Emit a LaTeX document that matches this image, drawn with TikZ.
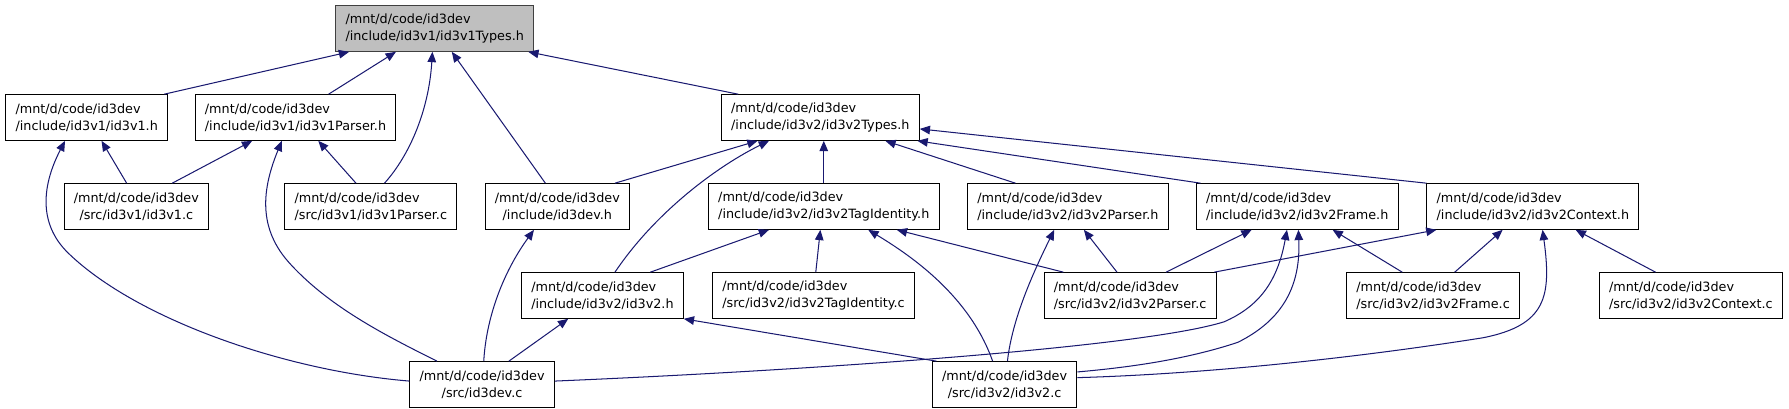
\documentclass[tikz,border=0pt]{standalone}
\usepackage{fontspec}
\setmainfont{DejaVu Sans}
\usetikzlibrary{arrows.meta}
\definecolor{DGEdge}{HTML}{191970}
\definecolor{DGRoot}{HTML}{BFBFBF}
\definecolor{DGRootLine}{HTML}{404040}
\tikzset{
  dep/.style={{Triangle[length=9pt,width=7.5pt]}-,DGEdge,line width=0.9pt},
  file/.style={draw=black,line width=0.9pt,fill=white,inner xsep=8.5pt,inner ysep=2pt,
               minimum height=40pt,align=left,font=\fontsize{11.2}{14.5}\selectfont},
  filec/.style={file,align=center},
  root/.style={file,fill=DGRoot,draw=DGRootLine},
}
\begin{document}
\begin{tikzpicture}[x=1pt,y=1pt]
  \useasboundingbox (0,0) rectangle (1568,-358);
  % headers
  \node[root] (types) at (381,-25) {/mnt/d/code/id3dev\\/include/id3v1/id3v1Types.h};
  \node[file] (v1h) at (76,-103) {/mnt/d/code/id3dev\\/include/id3v1/id3v1.h};
  \node[file] (v1parserh) at (259,-103) {/mnt/d/code/id3dev\\/include/id3v1/id3v1Parser.h};
  \node[file] (v2typesh) at (719,-103) {/mnt/d/code/id3dev\\/include/id3v2/id3v2Types.h};
  \node[filec] (v1c) at (119.5,-181) {/mnt/d/code/id3dev\\/src/id3v1/id3v1.c};
  \node[file] (v1parserc) at (325,-181) {/mnt/d/code/id3dev\\/src/id3v1/id3v1Parser.c};
  \node[filec] (devh) at (488.5,-181) {/mnt/d/code/id3dev\\/include/id3dev.h};
  \node[file] (tagidh) at (722,-181) {/mnt/d/code/id3dev\\/include/id3v2/id3v2TagIdentity.h};
  \node[file] (v2parserh) at (936,-181) {/mnt/d/code/id3dev\\/include/id3v2/id3v2Parser.h};
  \node[file] (frameh) at (1137,-181) {/mnt/d/code/id3dev\\/include/id3v2/id3v2Frame.h};
  \node[file] (contexth) at (1343.5,-181) {/mnt/d/code/id3dev\\/include/id3v2/id3v2Context.h};
  \node[file] (v2h) at (528,-259) {/mnt/d/code/id3dev\\/include/id3v2/id3v2.h};
  \node[file] (tagidc) at (713,-259) {/mnt/d/code/id3dev\\/src/id3v2/id3v2TagIdentity.c};
  \node[file] (v2parserc) at (990.5,-259) {/mnt/d/code/id3dev\\/src/id3v2/id3v2Parser.c};
  \node[file] (framec) at (1256,-259) {/mnt/d/code/id3dev\\/src/id3v2/id3v2Frame.c};
  \node[file] (contextc) at (1482,-259) {/mnt/d/code/id3dev\\/src/id3v2/id3v2Context.c};
  \node[filec] (devc) at (422.5,-337) {/mnt/d/code/id3dev\\/src/id3dev.c};
  \node[filec] (v2c) at (880.5,-337) {/mnt/d/code/id3dev\\/src/id3v2/id3v2.c};

  % id3v1Types.h
  \draw[dep] ([xshift=-75]types.south) -- ([xshift=68]v1h.north);
  \draw[dep] ([xshift=-34]types.south) -- ([xshift=29]v1parserh.north);
  \draw[dep] ([xshift=-2]types.south) .. controls (376,-95) and (360,-135) .. ([xshift=12]v1parserc.north);
  \draw[dep] ([xshift=15]types.south) -- ([xshift=-10.5]devh.north);
  \draw[dep] ([xshift=82]types.south) -- ([xshift=-72]v2typesh.north);
  % id3v1
  \draw[dep] ([xshift=13]v1h.south) -- ([xshift=-8.5]v1c.north);
  \draw[dep] ([xshift=-19]v1h.south) .. controls (38,-160) and (32,-195) .. (60,-222)
    .. controls (120,-280) and (250,-325) .. ([yshift=3]devc.west);
  \draw[dep] ([xshift=-38]v1parserh.south) -- ([xshift=31.5]v1c.north);
  \draw[dep] ([xshift=-12]v1parserh.south) .. controls (230,-165) and (225,-200) .. (255,-232)
    .. controls (290,-270) and (340,-295) .. ([xshift=-39.5]devc.north);
  \draw[dep] ([xshift=20]v1parserh.south) -- ([xshift=-13]v1parserc.north);
  \draw[dep] ([xshift=-20.5]devh.south) .. controls (440,-240) and (426,-280) .. ([xshift=1.5]devc.north);
  % id3v2Types.h
  \draw[dep] ([xshift=-55]v2typesh.south) -- ([xshift=50.5]devh.north);
  \draw[dep] ([xshift=-45]v2typesh.south) .. controls (630,-145) and (575,-185) .. ([xshift=11]v2h.north);
  \draw[dep] ([xshift=3]v2typesh.south) -- ([xshift=0]tagidh.north);
  \draw[dep] ([xshift=57]v2typesh.south) -- ([xshift=-46]v2parserh.north);
  \draw[dep] ([xshift=-2]v2typesh.south east) -- ([xshift=4]frameh.north west);
  \draw[dep] ([yshift=-10]v2typesh.east) -- (contexth.north west);
  % id3v2TagIdentity.h
  \draw[dep] ([xshift=-48]tagidh.south) -- ([xshift=42]v2h.north);
  \draw[dep] ([xshift=-3]tagidh.south) -- ([xshift=2]tagidc.north);
  \draw[dep] ([xshift=39]tagidh.south) .. controls (800,-225) and (850,-260) .. ([xshift=-10.5]v2c.north);
  \draw[dep] ([xshift=64]tagidh.south) -- ([xshift=-58.5]v2parserc.north);
  % id3v2Parser.h
  \draw[dep] ([xshift=-12]v2parserh.south) .. controls (905,-240) and (887,-280) .. ([xshift=2.5]v2c.north);
  \draw[dep] ([xshift=14]v2parserh.south) -- ([xshift=-11.5]v2parserc.north);
  % id3v2Frame.h
  \draw[dep] ([xshift=-40]frameh.south) -- ([xshift=31.5]v2parserc.north);
  \draw[dep] ([xshift=-9]frameh.south) .. controls (1120,-245) and (1105,-268) .. (1073,-282)
    .. controls (1000,-305) and (700,-325) .. ([yshift=3]devc.east);
  \draw[dep] ([xshift=1]frameh.south) .. controls (1140,-250) and (1125,-280) .. (1085,-300)
    .. controls (1040,-315) and (990,-322) .. ([yshift=11]v2c.east);
  \draw[dep] ([xshift=31]frameh.south) -- ([xshift=-27]framec.north);
  % id3v2Context.h
  \draw[dep] ([xshift=-84.5]contexth.south) -- ([xshift=-2]v2parserc.north east);
  \draw[dep] ([xshift=-26.5]contexth.south) -- ([xshift=19]framec.north);
  \draw[dep] ([xshift=8.5]contexth.south) .. controls (1360,-260) and (1355,-285) .. (1300,-296)
    .. controls (1180,-315) and (1050,-328) .. ([yshift=6]v2c.east);
  \draw[dep] ([xshift=37.5]contexth.south) -- ([xshift=-31]contextc.north);
  % id3v2.h
  \draw[dep] ([xshift=-30]v2h.south) -- ([xshift=23.5]devc.north);
  \draw[dep] (v2h.south east) -- ([xshift=4]v2c.north west);
\end{tikzpicture}
\end{document}
